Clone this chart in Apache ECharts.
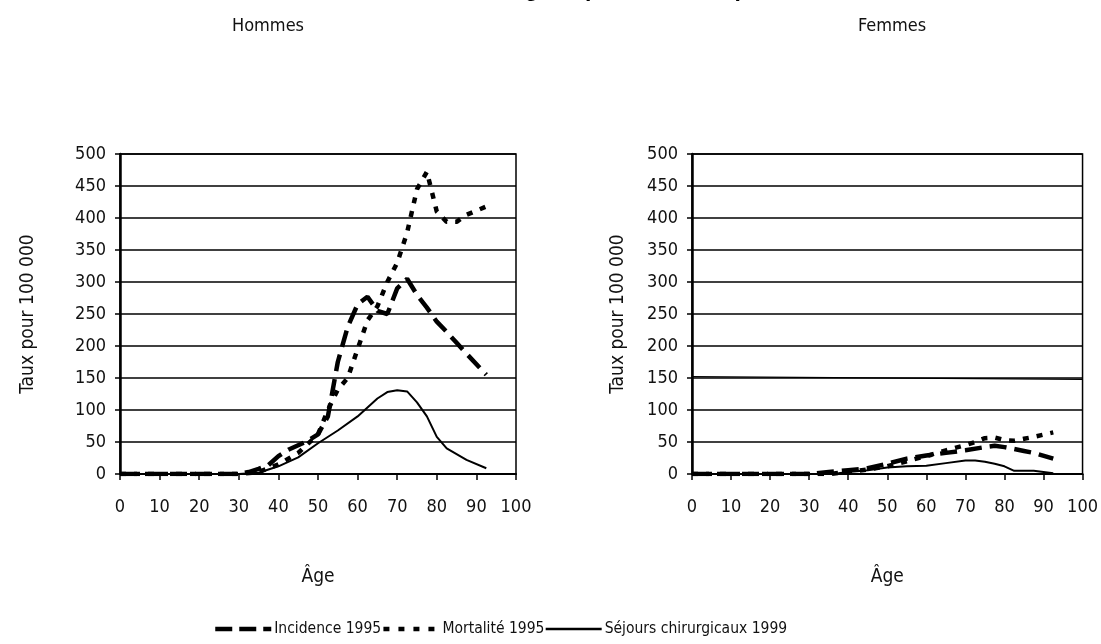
<!DOCTYPE html>
<html><head><meta charset="utf-8">
<script src="https://cdn.jsdelivr.net/npm/echarts@6/dist/echarts.min.js"></script>
<style>html,body{margin:0;padding:0;background:#fff}#c{width:1101px;height:644px}</style>
</head><body><div id="c"></div>
<script>
// ---- data ----
const titleText = "Tumeurs malignes primitives du poumon";
const panelTitles = ["Hommes", "Femmes"];
const seriesNames = ["Incidence 1995", "Mortalité 1995", "Séjours chirurgicaux 1999"];
const yAxisName = "Taux pour 100 000";
const xAxisName = "Âge";

const hIncAges = [0,5,10,15,20,25,30,32.5,35,37.5,40,42.5,45,47.5,50,52.5,55,57.5,60,62.5,65,67.5,70,72.5,75,77.5,80,82.5,85,87.5,92.5];
const hIncVals = [0,0,0,0,0,0,0,3,8,14,28,38,45,52,62,90,175,230,265,277,255,250,290,305,280,260,238,222,205,188,155];

const hMorAges = [0,5,10,15,20,25,30,35,40,45,50,52.5,55,57.5,60,62.5,65,67.5,70,72.5,75,77.5,80,82.5,85,87.5,92.5];
const hMorVals = [0,0,0,0,0,0,0,3,15,33,62,100,132,150,195,240,262,300,330,377,445,472,410,394,394,405,418];

const hSejAges = [0,5,10,15,20,25,30,35,40,45,50,55,60,65,67.5,70,72.5,75,77.5,80,82.5,87.5,92.5];
const hSejVals = [0,0,0,0,0,0,0,2,12,26,48,68,90,118,128,131,129,112,90,58,40,22,9];

const fIncAges = [0,5,10,15,20,25,30,35,40,45,50,55,60,65,70,75,77.5,80,85,87.5,92.5];
const fIncVals = [0,0,0,0,0,0,0,3,6,9,16,24,29,33,37,42,44,42,36,33,24];

const fMorAges = [0,5,10,15,20,25,30,35,40,45,50,55,60,65,70,72.5,75,77.5,80,82.5,85,87.5,92.5];
const fMorVals = [0,0,0,0,0,0,0,0,3,7,12,20,28,37,45,50,56,57,53,52,55,58,65];

const fSejAges = [0,5,10,15,20,25,30,35,37.5,40,45,50,55,60,65,70,72.5,75,77.5,80,82.5,85,87.5,92.5];
const fSejVals = [0,0,0,0,0,0,0,0,1,3,6,10,12,13,17,21,21,19,16,12,5,5,5,1];

const fStrayAges = [0,100];
const fStrayVals = [152,148];

const xTicks = {min:0, max:100, interval:10};
const yTicks = {min:0, max:500, interval:50};
// ---------------

const pair = (a,v)=>a.map((x,i)=>[x,v[i]]);
const FONT = "'DejaVu Sans Condensed','Liberation Sans',sans-serif";
const chart = echarts.init(document.getElementById('c'), null, {renderer:'canvas'});

const grids = [
  {left:120, right:585, top:154, bottom:170, show:true, borderColor:'#000', borderWidth:1.5},
  {left:692, right:16, top:154, bottom:170, show:true, borderColor:'#000', borderWidth:1.5}
];
const nameGaps = [82, 64];
const xAxes = grids.map((g,i)=>({
  type:'value', gridIndex:i, min:xTicks.min, max:xTicks.max, interval:xTicks.interval,
  name:xAxisName, nameLocation:'middle', nameGap:94,
  nameTextStyle:{fontFamily:FONT, fontSize:19, color:'#111'},
  axisLine:{lineStyle:{color:'#000', width:2}},
  axisTick:{show:true, length:6, lineStyle:{color:'#000', width:1.5}},
  axisLabel:{fontFamily:FONT, fontSize:18, color:'#111', margin:24},
  splitLine:{show:false}
}));
const yAxes = grids.map((g,i)=>({
  type:'value', gridIndex:i, min:yTicks.min, max:yTicks.max, interval:yTicks.interval,
  name:yAxisName, nameLocation:'middle', nameGap:nameGaps[i], nameRotate:90,
  nameTextStyle:{fontFamily:FONT, fontSize:19, color:'#111'},
  axisLine:{show:true, lineStyle:{color:'#000', width:2.5}},
  axisTick:{show:true, length:5, lineStyle:{color:'#000', width:1.5}},
  axisLabel:{fontFamily:FONT, fontSize:18, color:'#111', margin:14},
  splitLine:{show:true, lineStyle:{color:'#000', width:1.5}}
}));

const mk = (name, data, gi, style) => Object.assign({
  name, type:'line', xAxisIndex:gi, yAxisIndex:gi, data, symbol:'none', smooth:false,
  animation:false, z:3
}, style);
const incStyle = {lineStyle:{color:'#000', width:4.5, type:[17,8]}, itemStyle:{color:'#000'}};
const morStyle = {lineStyle:{color:'#000', width:4.5, type:[6,8]}, itemStyle:{color:'#000'}};
const sejStyle = {lineStyle:{color:'#000', width:2, type:'solid'}, itemStyle:{color:'#000'}};

const series = [
  mk(seriesNames[0], pair(hIncAges,hIncVals), 0, incStyle),
  mk(seriesNames[1], pair(hMorAges,hMorVals), 0, morStyle),
  mk(seriesNames[2], pair(hSejAges,hSejVals), 0, sejStyle),
  mk(seriesNames[0], pair(fIncAges,fIncVals), 1, incStyle),
  mk(seriesNames[1], pair(fMorAges,fMorVals), 1, morStyle),
  mk(seriesNames[2], pair(fSejAges,fSejVals), 1, sejStyle),
  mk('trait', pair(fStrayAges,fStrayVals), 1, {lineStyle:{color:'#000', width:1.2}, z:2})
];

const legendWidths = [4.5, 4.5, 2.5];
const legendDashes = [[17,7], [6,9], 'solid'];

chart.setOption({
  backgroundColor:'#fff',
  animation:false,
  grid:grids, xAxis:xAxes, yAxis:yAxes, series,
  legend:{
    data:seriesNames.map((n,i)=>({name:n, lineStyle:{width:legendWidths[i], type:legendDashes[i], color:'#000'}})),
    bottom:2, left:208, itemWidth:56, itemHeight:14, itemGap:0,
    itemStyle:{opacity:0},
    textStyle:{fontFamily:FONT, fontSize:15.5, color:'#111', padding:[0,0,0,-2]}
  },
  graphic:[
    {type:'text', left:377, top:-22, style:{text:titleText, font:"bold 23px 'Liberation Sans', Arial, sans-serif", fill:'#000'}},
    {type:'text', left:232, top:17, style:{text:panelTitles[0], font:"18px "+FONT, fill:'#111'}},
    {type:'text', left:858, top:17, style:{text:panelTitles[1], font:"18px "+FONT, fill:'#111'}}
  ]
});
</script></body></html>
